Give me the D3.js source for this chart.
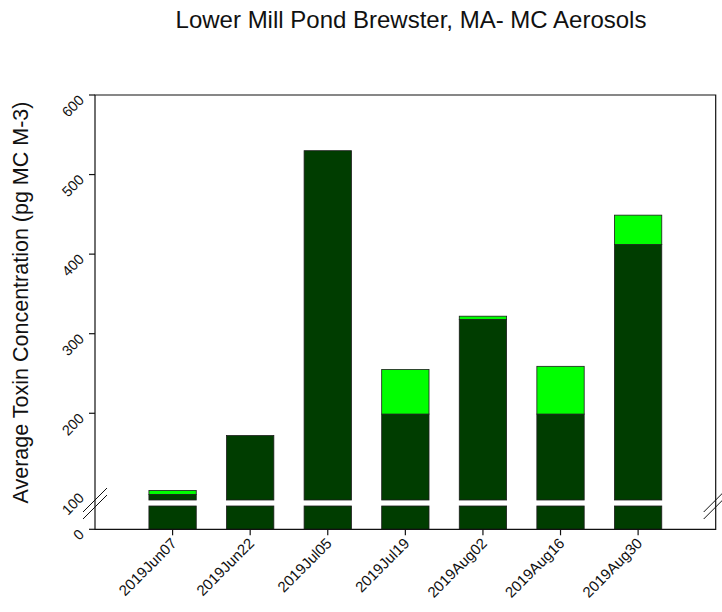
<!DOCTYPE html>
<html>
<head>
<meta charset="utf-8">
<script src="https://cdn.jsdelivr.net/npm/d3@7"></script>
<style>
  body { margin: 0; background: #fff; }
  svg { display: block; }
  text { font-family: "Liberation Sans", Arial, sans-serif; fill: #111; }
</style>
</head>
<body>
<svg id="chart" width="722" height="612"></svg>
<script>
// ---- data ----
const categories = ["2019Jun07", "2019Jun22", "2019Jul05", "2019Jul19", "2019Aug02", "2019Aug16", "2019Aug30"];
const darkValues  = [98, 172, 530, 199, 318, 199, 412];
const lightValues = [5, 0, 0, 56, 4, 60, 37];
const yTickValues = [0, 100, 200, 300, 400, 500, 600];
const yTickMarks  = [0, 200, 300, 400, 500, 600];
const gap = [29, 91];
const title = "Lower Mill Pond Brewster, MA- MC Aerosols";
const yTitle = "Average Toxin Concentration (pg MC M-3)";

// ---- layout ----
const W = 722, H = 612;
const mLeft = 95, mRight = 715.7, mTop = 95, mBottom = 529.3;
const gapBottomPx = 506, gapTopPx = 500;
const colors = { dark: "#003d00", light: "#00ff00", stroke: "#1c1c1c" };

const svg = d3.select("#chart");

const x = d3.scalePoint().domain(categories).range([mLeft, mRight]).padding(1);
const barW = x.step() * 0.61;

const y = d3.scaleLinear()
  .domain([0, gap[0], gap[1], 600])
  .range([mBottom, gapBottomPx, gapTopPx, mTop]);

// split a [a,b] segment around the gap
function pieces(a, b) {
  const out = [];
  if (b <= a) return out;
  if (a < gap[0]) out.push([a, Math.min(b, gap[0])]);
  if (b > gap[1]) out.push([Math.max(a, gap[1]), b]);
  return out;
}

const rects = [];
categories.forEach((c, i) => {
  const d = darkValues[i], l = lightValues[i];
  pieces(0, d).forEach(p => rects.push({ c, p, fill: colors.dark }));
  pieces(d, d + l).forEach(p => rects.push({ c, p, fill: colors.light }));
});

svg.append("g").selectAll("rect").data(rects).join("rect")
  .attr("x", d => x(d.c) - barW / 2)
  .attr("width", barW)
  .attr("y", d => y(d.p[1]))
  .attr("height", d => y(d.p[0]) - y(d.p[1]))
  .attr("fill", d => d.fill)
  .attr("stroke", colors.stroke)
  .attr("stroke-width", 0.8);

// box / axes
const axisG = svg.append("g").attr("stroke", "#111").attr("stroke-width", 1.2).attr("fill", "none");
axisG.append("path").attr("d", `M${mLeft},${mTop}H${mRight}V${mBottom}H${mLeft}Z`);

// y ticks
const yAx = svg.append("g");
yAx.selectAll("line").data(yTickMarks).join("line")
  .attr("x1", mLeft - 6).attr("x2", mLeft)
  .attr("y1", d => y(d)).attr("y2", d => y(d))
  .attr("stroke", "#111").attr("stroke-width", 1.2);
yAx.selectAll("text").data(yTickValues).join("text")
  .attr("transform", d => `translate(${mLeft - 10},${y(d) + 6}) rotate(-45)`)
  .attr("text-anchor", "end")
  .attr("font-size", 14.5)
  .attr("fill", "#333")
  .text(d => d);

// x ticks
const xAx = svg.append("g");
xAx.selectAll("line").data(categories).join("line")
  .attr("x1", d => x(d)).attr("x2", d => x(d))
  .attr("y1", mBottom).attr("y2", mBottom + 6)
  .attr("stroke", "#111").attr("stroke-width", 1.2);
xAx.selectAll("text").data(categories).join("text")
  .attr("transform", d => `translate(${x(d) + 5},${mBottom + 15}) rotate(-45)`)
  .attr("text-anchor", "end")
  .attr("font-size", 15)
  .text(d => d);

// axis break marks
const brk = svg.append("g").attr("stroke", "#111").attr("stroke-width", 1);
[[mLeft, gapTopPx], [mLeft, gapBottomPx + 1], [mRight, gapTopPx], [mRight, gapBottomPx + 1]].forEach(([cx, cy]) => {
  brk.append("line")
    .attr("x1", cx - 12).attr("y1", cy + 12)
    .attr("x2", cx + 12).attr("y2", cy - 12);
});

// titles
svg.append("text")
  .attr("x", 411).attr("y", 28)
  .attr("text-anchor", "middle")
  .attr("font-size", 24)
  .text(title);

svg.append("text")
  .attr("transform", `translate(28,${(505 + 100) / 2}) rotate(-90)`)
  .attr("text-anchor", "middle")
  .attr("font-size", 21.5)
  .text(yTitle);
</script>
</body>
</html>
